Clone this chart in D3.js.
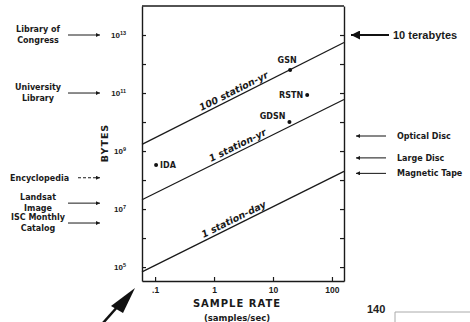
<!DOCTYPE html>
<html>
<head>
<meta charset="utf-8">
<script src="https://cdn.jsdelivr.net/npm/d3@7"></script>
<style>
  body { margin: 0; background: #fff; }
  svg { display: block; font-family: "DejaVu Sans", sans-serif; }
</style>
</head>
<body>
<div id="canvas"></div>
<script>
// datos
const rateEnds = [0.06, 160];
const stationDay = [6.8e4, 2.0e8];
const stationYr = [2.1e7, 6.0e10];
const station100Yr = [1.7e9, 5.5e12];

const lineNames = ["1 station-day", "1 station-yr", "100 station-yr"];
const lineLabelRate = [2.4, 2.8, 2.4];

const pointNames = ["GSN", "RSTN", "GDSN", "IDA"];
const pointRates = [19.5, 38, 19, 0.104];
const pointBytes = [6.2e11, 8.6e10, 1.0e10, 3.3e8];

const xTicks = [0.1, 1, 10, 100];
const xTickLabels = [".1", "1", "10", "100"];
const yTicks = [1e5, 1e6, 1e7, 1e8, 1e9, 1e10, 1e11, 1e12, 1e13];

// referencias de almacenamiento
const leftNames = [["Library of", "Congress"], ["University", "Library"], ["Encyclopedia"], ["Landsat", "Image"], ["ISC Monthly", "Catalog"]];
const leftBytes = [1e13, 1e11, 1.2e8, 1.6e7, 3.3e6];
const rightNames = ["10 terabytes", "Optical  Disc", "Large  Disc", "Magnetic  Tape"];
const rightBytes = [1e13, 3.3e9, 5.8e8, 1.7e8];

const width = 470;
const height = 322;
const margin = { top: 6, left: 142, right: 126, bottom: 41 };
const iwidth = width - margin.left - margin.right;
const iheight = height - margin.top - margin.bottom;
const ink = "#1a1a1a";

const svg = d3.select("#canvas").append("svg")
  .attr("width", width)
  .attr("height", height);

svg.append("rect").attr("width", width).attr("height", height).attr("fill", "#fff");

const defs = svg.append("defs");
defs.append("marker")
  .attr("id", "head")
  .attr("viewBox", "0 0 10 10")
  .attr("refX", 10).attr("refY", 5)
  .attr("markerWidth", 6).attr("markerHeight", 4)
  .attr("markerUnits", "userSpaceOnUse")
  .attr("orient", "auto")
  .append("path").attr("d", "M0,0L10,5L0,10Z").attr("fill", ink);
defs.append("marker")
  .attr("id", "bighead")
  .attr("viewBox", "0 0 10 10")
  .attr("refX", 10).attr("refY", 5)
  .attr("markerWidth", 11).attr("markerHeight", 9)
  .attr("markerUnits", "userSpaceOnUse")
  .attr("orient", "auto")
  .append("path").attr("d", "M0,0L10,5L0,10Z").attr("fill", "#111");

const g = svg.append("g")
  .attr("transform", `translate(${margin.left},${margin.top})`);

const x = d3.scaleLog().domain([0.06, 160]).range([0, iwidth]);
const y = d3.scaleLog().domain([Math.pow(10, 4.52), 1e14]).range([iheight, 0]);

// ejes con marcas hacia dentro
const xAxis = g.append("g")
  .attr("transform", `translate(0,${iheight})`)
  .call(d3.axisBottom(x).tickValues(xTicks).tickFormat((d, i) => xTickLabels[i])
    .tickSizeInner(-4).tickSizeOuter(0).tickPadding(6));
xAxis.selectAll("text").attr("font-size", 8.5).attr("font-weight", "bold").attr("fill", ink);

const yAxis = g.append("g")
  .call(d3.axisLeft(y).tickValues(yTicks).tickFormat("")
    .tickSizeInner(-4).tickSizeOuter(0).tickPadding(15));

// etiquetas 10^n solo en exponentes impares
yAxis.selectAll(".tick").each(function(d) {
  const e = Math.round(Math.log10(d));
  if (e % 2 === 0) return;
  const t = d3.select(this).select("text")
    .attr("font-size", 8).attr("font-weight", "bold").attr("fill", ink).attr("x", -16);
  t.append("tspan").text("10");
  t.append("tspan").attr("font-size", 5.5).attr("dy", "-0.5em").text(e);
});

g.append("g")
  .attr("transform", `translate(${iwidth},0)`)
  .call(d3.axisRight(y).tickValues(yTicks).tickFormat("")
    .tickSizeInner(-4).tickSizeOuter(0));

g.append("line").attr("x1", 0).attr("x2", iwidth).attr("y1", 0).attr("y2", 0)
  .attr("stroke", ink).attr("stroke-width", 1.3);

g.selectAll(".domain").attr("stroke", ink).attr("stroke-width", 1.4);
g.selectAll(".tick line").attr("stroke", ink).attr("stroke-width", 1.2);

// lineas de volumen
const series = [stationDay, stationYr, station100Yr];
series.forEach((s, i) => {
  const pts = rateEnds.map((r, j) => [x(r), y(s[j])]);
  g.append("path")
    .attr("d", d3.line()(pts))
    .attr("fill", "none")
    .attr("stroke", ink)
    .attr("stroke-width", 1.3);

  const ang = Math.atan2(pts[1][1] - pts[0][1], pts[1][0] - pts[0][0]) * 180 / Math.PI;
  const r = lineLabelRate[i];
  const t = Math.log(r / rateEnds[0]) / Math.log(rateEnds[1] / rateEnds[0]);
  const px = pts[0][0] + t * (pts[1][0] - pts[0][0]);
  const py = pts[0][1] + t * (pts[1][1] - pts[0][1]);
  g.append("text")
    .attr("transform", `translate(${px},${py}) rotate(${ang})`)
    .attr("y", -3)
    .attr("text-anchor", "middle")
    .attr("font-size", 9.5)
    .attr("font-style", "italic")
    .attr("font-weight", "bold")
    .attr("fill", ink)
    .text(lineNames[i]);
});

// redes
const pts = pointNames.map((n, i) => ({ name: n, rate: pointRates[i], bytes: pointBytes[i] }));
g.selectAll(".dot")
  .data(pts)
  .enter()
  .append("circle")
  .attr("class", "dot")
  .attr("r", 2)
  .attr("cx", d => x(d.rate))
  .attr("cy", d => y(d.bytes))
  .attr("fill", "#111");

const offs = { GSN: [-3, -7, "middle"], RSTN: [-4, 3, "end"], GDSN: [-4, -3, "end"], IDA: [4, 3, "start"] };
g.selectAll(".plabel")
  .data(pts)
  .enter()
  .append("text")
  .attr("class", "plabel")
  .attr("x", d => x(d.rate) + offs[d.name][0])
  .attr("y", d => y(d.bytes) + offs[d.name][1])
  .attr("text-anchor", d => offs[d.name][2])
  .attr("font-size", 8)
  .attr("font-weight", "bold")
  .attr("fill", ink)
  .text(d => d.name);

// titulos de ejes
svg.append("text")
  .attr("transform", `translate(108,143) rotate(-90)`)
  .attr("text-anchor", "middle")
  .attr("font-size", 9.5)
  .attr("font-weight", "bold")
  .attr("letter-spacing", 1)
  .attr("fill", ink)
  .text("BYTES");

svg.append("text")
  .attr("x", 237).attr("y", 307)
  .attr("text-anchor", "middle")
  .attr("font-size", 10)
  .attr("font-weight", "bold")
  .attr("letter-spacing", 1)
  .attr("fill", ink)
  .text("SAMPLE RATE");

svg.append("text")
  .attr("x", 237).attr("y", 321)
  .attr("text-anchor", "middle")
  .attr("font-size", 8.5)
  .attr("font-weight", "bold")
  .attr("fill", ink)
  .text("(samples/sec)");

// referencias a la izquierda
leftNames.forEach((lines, i) => {
  const yy = y(leftBytes[i]) + margin.top;
  const single = lines.length === 1;
  const tx = single ? 10 : 38;
  const t = svg.append("text")
    .attr("text-anchor", single ? "start" : "middle")
    .attr("font-size", 8)
    .attr("font-weight", "bold")
    .attr("fill", ink);
  lines.forEach((l, j) => {
    t.append("tspan")
      .attr("x", tx)
      .attr("y", yy + (single ? 3 : (j === 0 ? -3 : 8)))
      .text(l);
  });
  svg.append("line")
    .attr("x1", single ? 78 : 68).attr("x2", 100)
    .attr("y1", yy).attr("y2", yy)
    .attr("stroke", ink)
    .attr("stroke-width", 1)
    .attr("stroke-dasharray", single ? "3,2" : null)
    .attr("marker-end", "url(#head)");
});

// referencias a la derecha
rightNames.forEach((n, i) => {
  const yy = y(rightBytes[i]) + margin.top;
  const big = i === 0;
  svg.append("line")
    .attr("x1", big ? 389 : 386).attr("x2", big ? 351 : 356)
    .attr("y1", yy).attr("y2", yy)
    .attr("stroke", "#111")
    .attr("stroke-width", big ? 2.2 : 1)
    .attr("marker-end", big ? "url(#bighead)" : "url(#head)");
  svg.append("text")
    .attr("x", big ? 393 : 397)
    .attr("y", yy + (big ? 4 : 3))
    .attr("font-size", big ? 11 : 8)
    .attr("font-weight", "bold")
    .attr("font-family", big ? "Liberation Sans, sans-serif" : null)
    .attr("fill", ink)
    .text(n);
});

// flecha grande abajo a la izquierda
svg.append("line")
  .attr("x1", 103).attr("y1", 323)
  .attr("x2", 119).attr("y2", 305)
  .attr("stroke", "#111").attr("stroke-width", 2.5);
svg.append("path")
  .attr("d", "M135,288L111,306L123,313Z")
  .attr("fill", "#111");

// pagina siguiente (fragmento)
svg.append("text")
  .attr("x", 367).attr("y", 313)
  .attr("font-size", 11)
  .attr("font-weight", "bold")
  .attr("font-family", "Liberation Sans, sans-serif")
  .attr("fill", "#222")
  .text("140");
svg.append("path")
  .attr("d", "M395,323V312H471")
  .attr("fill", "none")
  .attr("stroke", "#aaa");
</script>
</body>
</html>
